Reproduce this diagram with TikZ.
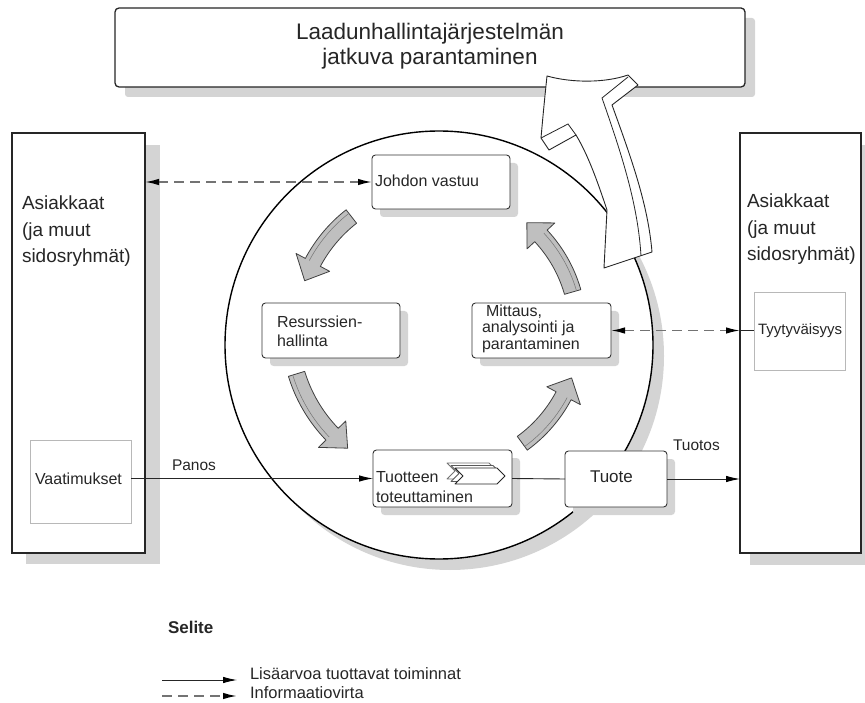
\documentclass[tikz,border=0pt]{standalone}
\usepackage{fontspec}
\setmainfont{Liberation Sans}
\usetikzlibrary{arrows.meta}
\newcommand{\cycarrow}[5]{%
  \pgfmathsetmacro{\cyAh}{#5+8}%
  \pgfmathsetmacro{\cyRo}{#3+8.5}%
  \pgfmathsetmacro{\cyRi}{#3-8.5}%
  \pgfmathsetmacro{\cyRl}{#3+4}%
  \pgfmathsetmacro{\cyHo}{#3+19}%
  \pgfmathsetmacro{\cyHi}{#3-19}%
  \filldraw[cyc] plot[domain=#4:\cyAh, samples=24] ({#1+\cyRo*cos(\x)},{#2+\cyRo*sin(\x)})
    -- ({#1+\cyHo*cos(\cyAh)},{#2+\cyHo*sin(\cyAh)})
    -- ({#1+#3*cos(#5)},{#2+#3*sin(#5)})
    -- ({#1+\cyHi*cos(\cyAh)},{#2+\cyHi*sin(\cyAh)})
    -- ({#1+\cyRi*cos(\cyAh)},{#2+\cyRi*sin(\cyAh)})
    -- plot[domain=\cyAh:#4, samples=24] ({#1+\cyRi*cos(\x)},{#2+\cyRi*sin(\x)}) -- cycle;
  \draw[black!55, line width=0.5pt] plot[domain=#4:\cyAh, samples=24] ({#1+\cyRl*cos(\x)},{#2+\cyRl*sin(\x)});
}
\begin{document}
\begin{tikzpicture}[x=1pt,y=-1pt,
  every node/.style={inner sep=0pt, outer sep=0pt, text=black!85},
  shad/.style={fill=black!17, draw=none},
  bigbox/.style={draw=black!85, line width=1.3pt, fill=white, anchor=north west},
  sbox/.style={draw=black!80, line width=0.9pt, fill=white, rounded corners=3.5pt, anchor=north west},
  lbox/.style={draw=black!28, line width=0.7pt, fill=white, anchor=north west},
  tl/.style={anchor=base west, font=\fontsize{16}{19}\selectfont},
  sidel/.style={anchor=base west, font=\fontsize{19}{22}\selectfont},
  flow/.style={draw=black!85, line width=0.9pt},
  info/.style={draw=black!55, line width=1.6pt, dash pattern=on 10pt off 6pt},
  tip/.style={-{Latex[length=14pt,width=6.5pt,color=black]}},
  cyc/.style={fill=black!25, draw=black!75, line width=0.8pt, line join=round},
]
\useasboundingbox (0,0) rectangle (865,703);
% shadows
\fill[shad, rounded corners=3pt] (125,18) rectangle (755,97);
\fill[shad] (26,145) rectangle (160,564);
\fill[shad] (750,145) rectangle (865,565);
\fill[shad] (450,356) circle (214);
% big boxes
\node[bigbox, rounded corners=4pt, minimum width=630, minimum height=79] (top) at (115,8) {};
\node[bigbox, minimum width=133, minimum height=420] (lb) at (12,133) {};
\node[bigbox, minimum width=121, minimum height=420] (rb) at (740,133) {};
\node[lbox, minimum width=101, minimum height=83] (vm) at (30,440) {};
\node[lbox, minimum width=91, minimum height=78] (ty) at (754,292) {};
% circle
\node[circle, draw=black, line width=1.4pt, fill=white, minimum size=428] (cyc) at (439,345) {};
% big white arrow
\filldraw[fill=white, draw=black!85, line width=0.9pt, line join=round]
 (547,76) .. controls (572,83) and (605,83) .. (628,75)
 -- (638,85) -- (612,105)
 .. controls (632,160) and (648,205) .. (652,252)
 -- (604,268) -- (607,210)
 .. controls (597,180) and (588,155) .. (576,135)
 -- (549,150) -- (541,138)
 .. controls (543,115) and (545,95) .. (547,76) -- cycle;
\draw[black!85, line width=0.8pt] (628,77) -- (602,98) .. controls (622,155) and (638,205) .. (641,256);
\draw[black!85, line width=0.8pt] (541,138) -- (568,124) -- (576,135);
% inner box shadows
\fill[shad, rounded corners=3.5pt] (380,163) rectangle (518,217);
\fill[shad, rounded corners=3.5pt] (270,311) rectangle (408,366);
\fill[shad, rounded corners=3.5pt] (480,311) rectangle (619,366);
\fill[shad, rounded corners=3.5pt] (381,458) rectangle (520,515);
\fill[shad, rounded corners=3.5pt] (573,459) rectangle (675,515);
% inner boxes
\node[sbox, minimum width=138, minimum height=54] (jv) at (372,155) {};
\node[sbox, minimum width=138, minimum height=55] (rh) at (262,303) {};
\node[sbox, minimum width=139, minimum height=55] (ma) at (472,303) {};
\node[sbox, minimum width=139, minimum height=57] (tt) at (373,450) {};
\node[sbox, minimum width=102, minimum height=56] (tu) at (565,451) {};
% chevrons
\foreach \dx/\dy/\cc [count=\i] in {-8/-5/black!55, -4/-2.5/black!65, 0/0/black!85}{
  \filldraw[fill=white, draw=\cc, line width=0.8pt, line join=round, shift={(\dx,\dy)}]
   (455,468) -- (497,468) -- (505,476) -- (497,484) -- (455,484) -- (463,476) -- cycle;
}
% cycle arrows
\cycarrow{440}{330}{144}{232}{200}
\cycarrow{440}{330}{150}{163}{128}
\cycarrow{440}{330}{140}{54}{20}
\cycarrow{440}{330}{138}{-16}{-51}
% texts
\node[anchor=base, font=\fontsize{22.5}{26}\selectfont] (t1) at (430,40) {Laadunhallintajärjestelmän};
\node[anchor=base, font=\fontsize{22.5}{26}\selectfont] (t2) at (430,65) {jatkuva parantaminen};
\node[sidel] (la1) at (22,210) {Asiakkaat};
\node[sidel] (la2) at (22,236.5) {(ja muut};
\node[sidel] (la3) at (22,263) {sidosryhmät)};
\node[sidel] (ra1) at (747,208) {Asiakkaat};
\node[sidel] (ra2) at (747,234.5) {(ja muut};
\node[sidel] (ra3) at (747,261) {sidosryhmät)};
\node[tl] (vmt) at (35,484) {Vaatimukset};
\node[tl, font=\fontsize{15}{18}\selectfont] (tyt) at (758,335) {Tyytyväisyys};
\node[tl] (jvt) at (375,187) {Johdon vastuu};
\node[tl] (rh1) at (277,328) {Resurssien-};
\node[tl] (rh2) at (277,347) {hallinta};
\node[tl] (ma1) at (486,317) {Mittaus,};
\node[tl] (ma2) at (482,333) {analysointi ja};
\node[tl] (ma3) at (482,349) {parantaminen};
\node[tl] (tt1) at (376,482) {Tuotteen};
\node[tl] (tt2) at (376,502) {toteuttaminen};
\node[tl, font=\fontsize{17}{20}\selectfont] (tut) at (590,482) {Tuote};
\node[tl, font=\fontsize{15.5}{18}\selectfont] (pan) at (172,470) {Panos};
\node[tl, font=\fontsize{15.5}{18}\selectfont] (tuo) at (673,450) {Tuotos};
% connectors
\draw[flow, tip] (tt.west -| vm.east) -- (tt.west);
\draw[flow] (tt.east) -- (tu.west);
\draw[flow, tip] (tu.east) -- (tu.east -| rb.west);
\draw[info, {Latex[length=14pt,width=6.5pt,color=black]}-{Latex[length=14pt,width=6.5pt,color=black]}] (jv.west -| lb.east) -- (jv.west);
\draw[info, {Latex[length=14pt,width=6.5pt,color=black]}-{Latex[length=14pt,width=6.5pt,color=black]}] (ma.east) -- (ma.east -| rb.west);
\draw[flow] (ma.east -| rb.west) -- (ma.east -| ty.west);
% legend
\node[anchor=base west, font=\bfseries\fontsize{17}{20}\selectfont] (sel) at (168,633) {Selite};
\coordinate (l1a) at (162,680);
\coordinate (l1b) at (237,680);
\coordinate (l2a) at (162,696);
\coordinate (l2b) at (237,696);
\draw[flow, tip] (l1a) -- (l1b);
\draw[info, tip] (l2a) -- (l2b);
\node[tl, font=\fontsize{16.5}{19}\selectfont] (l1t) at (250,679) {Lisäarvoa tuottavat toiminnat};
\node[tl, font=\fontsize{16.5}{19}\selectfont] (l2t) at (250,698) {Informaatiovirta};
\end{tikzpicture}
\end{document}
